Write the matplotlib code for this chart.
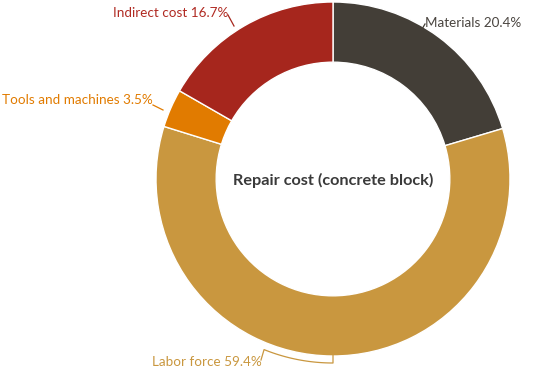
import numpy as np
import matplotlib.pyplot as plt

# Data
labels = ['Materials', 'Labor force', 'Tools and machines', 'Indirect cost']
shares = [20.4, 59.4, 3.5, 16.7]
colors = ['#433e37', '#c9973f', '#e17b00', '#a6261d']
text_colors = ['#4a4540', '#c9973f', '#e17b00', '#b02a22']

plt.rcParams['font.family'] = ['Lato', 'DejaVu Sans']

fig = plt.figure(figsize=(5.5, 3.75), dpi=100)
ax = fig.add_axes([0, 0, 1, 1])

cx, cy, r = 333, 375 - 179, 177
wedges, _ = ax.pie(shares, colors=colors, startangle=90, counterclock=False,
                   center=(cx, cy), radius=r,
                   wedgeprops=dict(width=r * 0.34, edgecolor='white', linewidth=1))
ax.set_xlim(0, 550)
ax.set_ylim(0, 375)
ax.set_aspect('equal')
ax.axis('off')

ax.text(cx, cy - 1, 'Repair cost (concrete block)', ha='center', va='center',
        fontsize=11.7, fontweight='bold', color='#3a3a3a')

# labels with leader lines (positions in pixels, y from top)
def lab(i, tx, ty, ha, line):
    xs = [p[0] for p in line]
    ys = [375 - p[1] for p in line]
    ax.plot(xs, ys, color=colors[i], lw=0.9)
    ax.text(tx, 375 - ty, f'{labels[i]} {shares[i]}%', ha=ha, va='center',
            fontsize=9.7, color=text_colors[i])

lab(0, 425, 23, 'left', [(418, 36), (425, 24)])
lab(3, 228, 13, 'right', [(228, 15), (234, 26)])
lab(2, 153, 100, 'right', [(153, 105), (163, 110)])

# labor force: bracket following the bottom of the ring
rb = 184
ang = np.radians(np.linspace(-112, -90, 30))
bracket = [(cx + rb * np.cos(a), 375 - (cy + rb * np.sin(a))) for a in ang]
line = [(261, 360)] + bracket + [(cx, 354)]
lab(1, 262, 362, 'right', line)

fig.savefig('out.png', dpi=100)
